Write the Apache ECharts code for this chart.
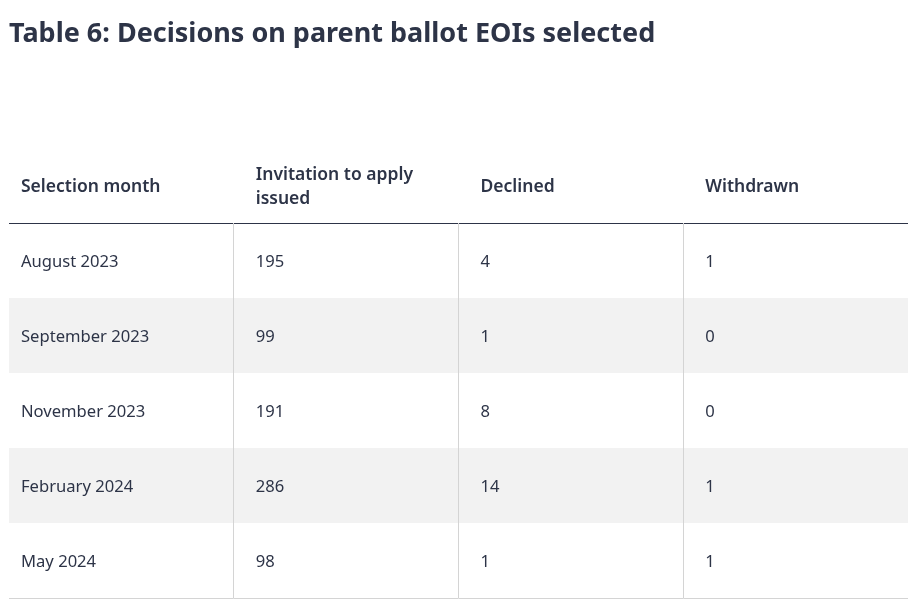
<!DOCTYPE html>
<html>
<head>
<meta charset="utf-8">
<script src="https://cdn.jsdelivr.net/npm/echarts@6/dist/echarts.min.js"></script>
<style>html,body{margin:0;padding:0;background:#fff}#c{width:914px;height:609px}</style>
</head>
<body>
<div id="c"></div>
<script>
const titleText = 'Table 6: Decisions on parent ballot EOIs selected';
const headers = ['Selection month', 'Invitation to apply\nissued', 'Declined', 'Withdrawn'];
const months = ['August 2023', 'September 2023', 'November 2023', 'February 2024', 'May 2024'];
const invitations = [195, 99, 191, 286, 98];
const declined = [4, 1, 8, 14, 1];
const withdrawn = [1, 0, 0, 1, 1];

const rowCats = ['header'].concat(months);
const colCats = headers.map((h, i) => 'c' + i);

const cells = [];
rowCats.forEach((r, ri) => {
  for (let ci = 0; ci < 4; ci++) {
    let label;
    if (ri === 0) label = headers[ci];
    else {
      const k = ri - 1;
      label = [months[k], invitations[k], declined[k], withdrawn[k]][ci];
    }
    cells.push({ value: [ci, ri], label: String(label) });
  }
});

const FONT = '"Noto Sans", sans-serif';
const INK = '#2d3447';

const chart = echarts.init(document.getElementById('c'), null, { renderer: 'canvas' });
chart.setOption({
  animation: false,
  backgroundColor: '#ffffff',
  title: {
    text: titleText,
    left: 4, top: 16,
    textStyle: { fontFamily: FONT, fontSize: 27, fontWeight: 'bold', color: INK }
  },
  grid: { left: 9, right: 6, top: 148, bottom: 11, containLabel: false },
  xAxis: { type: 'category', data: colCats, show: false },
  yAxis: { type: 'category', data: rowCats, inverse: true, show: false },
  series: [{
    type: 'custom',
    coordinateSystem: 'cartesian2d',
    clip: false,
    data: cells,
    renderItem: function (params, api) {
      const ci = api.value(0), ri = api.value(1);
      const c = api.coord([ci, ri]);
      const s = api.size([1, 1]);
      const x0 = c[0] - s[0] / 2, y0 = c[1] - s[1] / 2;
      const children = [];
      if (ri > 0 && ri % 2 === 0) {
        children.push({ type: 'rect', shape: { x: x0, y: y0, width: s[0], height: s[1] }, style: { fill: '#f2f2f2' } });
      }
      if (ri > 0 && ci > 0) {
        const lx = Math.floor(x0) + 0.5;
        children.push({ type: 'line', shape: { x1: lx, y1: y0, x2: lx, y2: y0 + s[1] }, style: { stroke: '#d4d4d4', lineWidth: 1 } });
      }
      if (ri === 0) {
        const ly = Math.round(y0 + s[1]) + 0.5;
        children.push({ type: 'line', shape: { x1: x0, y1: ly, x2: x0 + s[0], y2: ly }, style: { stroke: INK, lineWidth: 1.2 } });
      }
      if (ri === rowCats.length - 1) {
        const ly = Math.round(y0 + s[1]) + 0.5;
        children.push({ type: 'line', shape: { x1: x0, y1: ly, x2: x0 + s[0], y2: ly }, style: { stroke: '#d4d4d4', lineWidth: 1 } });
      }
      const pad = ci === 0 ? 12 : 22;
      children.push({
        type: 'text',
        style: {
          x: x0 + pad, y: c[1] + 2,
          text: cells[params.dataIndex].label,
          fill: INK,
          font: (ri === 0 ? '600 17.5px ' : '400 16.6px ') + FONT,
          textAlign: 'left', textVerticalAlign: 'middle',
          lineHeight: 24
        }
      });
      return { type: 'group', children: children };
    }
  }]
});
</script>
</body>
</html>
